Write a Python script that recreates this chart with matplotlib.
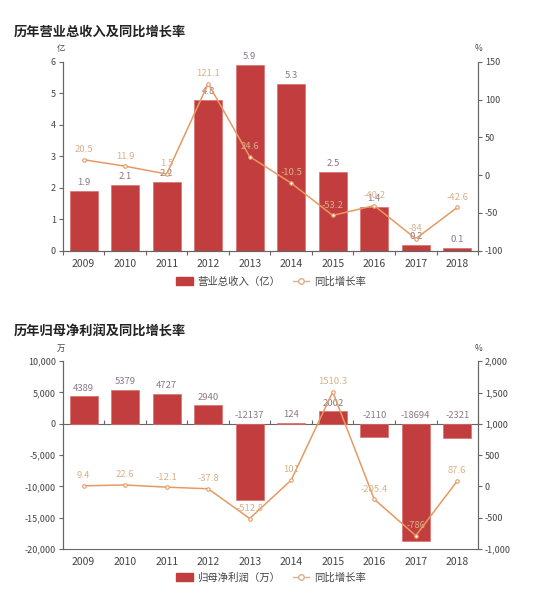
"""历年营业总收入 / 归母净利润及同比增长率（两张组合图）。"""

import matplotlib

matplotlib.use("Agg")
import matplotlib.pyplot as plt
import numpy as np
from matplotlib.lines import Line2D
from matplotlib.patches import Patch
from matplotlib.ticker import FuncFormatter, NullFormatter

years = ["2009", "2010", "2011", "2012", "2013", "2014", "2015", "2016", "2017", "2018"]

revenue = [1.9, 2.1, 2.2, 4.8, 5.9, 5.3, 2.5, 1.4, 0.2, 0.1]
revenue_growth = [20.5, 11.9, 1.5, 121.1, 24.6, -10.5, -53.2, -40.2, -84, -42.6]
revenue_growth_labels = ["20.5", "11.9", "1.5", "121.1", "24.6", "-10.5", "-53.2", "-40.2", "-84", "-42.6"]

profit = [4389, 5379, 4727, 2940, -12137, 124, 2002, -2110, -18694, -2321]
profit_growth = [9.4, 22.6, -12.1, -37.8, -512.8, 101, 1510.3, -205.4, -786, 87.6]
profit_growth_labels = ["9.4", "22.6", "-12.1", "-37.8", "-512.8", "101", "1510.3", "-205.4", "-786", "87.6"]

BAR_COLOR = "#c23d3d"
LINE_COLOR = "#e69a62"
LINE_LABEL_COLOR = "#d8b08a"
BAR_LABEL_COLOR = "#8a7888"
AXIS_COLOR = "#666666"
TEXT_COLOR = "#444444"

plt.rcParams["font.family"] = ["Noto Sans CJK SC", "DejaVu Sans"]
plt.rcParams["axes.unicode_minus"] = False


def thousands(v, _pos):
    return f"{int(round(v)):,}"


def style_axis(ax):
    for side in ("left", "right", "bottom", "top"):
        ax.spines[side].set_color(AXIS_COLOR)
        ax.spines[side].set_linewidth(0.8)
    ax.spines["top"].set_visible(False)
    ax.tick_params(axis="y", labelsize=6.5, colors=AXIS_COLOR, labelcolor=TEXT_COLOR,
                   length=3, width=0.8, pad=2)


def combo(fig, rect, bars, bar_ylim, bar_ticks, unit, line, line_labels,
          line_ylim, line_ticks, bar_label_fmt, legend_names, legend_y, comma=False):
    x = np.arange(len(years))
    ax = fig.add_axes(rect)
    ax2 = ax.twinx()
    style_axis(ax)
    style_axis(ax2)
    ax.set_zorder(ax2.get_zorder() - 1)
    ax.patch.set_visible(False)

    ax.bar(x, bars, width=0.68, color=BAR_COLOR, edgecolor="#d9706c", linewidth=0.5)
    ax.set_xlim(-0.5, len(years) - 0.5)
    ax.set_ylim(*bar_ylim)
    ax.set_yticks(bar_ticks)
    ax2.set_ylim(*line_ylim)
    ax2.set_yticks(line_ticks)
    if comma:
        ax.yaxis.set_major_formatter(FuncFormatter(thousands))
        ax2.yaxis.set_major_formatter(FuncFormatter(thousands))

    # category labels centred, tick marks between categories
    ax.set_xticks(x)
    ax.set_xticklabels(years)
    ax.tick_params(axis="x", which="major", length=0, labelsize=7.5,
                   labelcolor=TEXT_COLOR, pad=6)
    ax2.tick_params(axis="x", which="both", length=0)

    zero_frac = (0 - bar_ylim[0]) / (bar_ylim[1] - bar_ylim[0])
    ax.spines["bottom"].set_visible(zero_frac <= 0.001)
    sec = ax.secondary_xaxis(zero_frac)
    sec.spines["bottom"].set_visible(zero_frac > 0.001)
    sec.spines["bottom"].set_color(AXIS_COLOR)
    sec.spines["bottom"].set_linewidth(0.8)
    sec.spines["top"].set_visible(False)
    sec.set_xticks(np.arange(-0.5, len(years), 1))
    sec.xaxis.set_major_formatter(NullFormatter())
    sec.tick_params(axis="x", length=3, width=0.8, colors=AXIS_COLOR,
                    labelbottom=False, labeltop=False)

    span = bar_ylim[1] - bar_ylim[0]
    for xi, v in zip(x, bars):
        ax.text(xi, max(v, 0) + span * 0.02, bar_label_fmt(v), ha="center", va="bottom",
                fontsize=6.8, color=BAR_LABEL_COLOR)

    ax2.plot(x, line, color=LINE_COLOR, linewidth=1.1, marker="o", markersize=2.5,
             markerfacecolor="white", markeredgecolor=LINE_COLOR, markeredgewidth=0.8)
    lspan = line_ylim[1] - line_ylim[0]
    for xi, v, lab in zip(x, line, line_labels):
        ax2.text(xi, v + lspan * 0.03, lab, ha="center", va="bottom",
                 fontsize=6.8, color=LINE_LABEL_COLOR)

    # units above the two y axes
    ax.text(-0.005, 1.045, unit, transform=ax.transAxes, ha="center", va="bottom",
            fontsize=6, color=TEXT_COLOR)
    ax.text(1.0, 1.045, "%", transform=ax.transAxes, ha="center", va="bottom",
            fontsize=6, color=TEXT_COLOR)

    handles = [
        Patch(facecolor=BAR_COLOR, edgecolor=BAR_COLOR, label=legend_names[0]),
        Line2D([0], [0], color=LINE_LABEL_COLOR, linewidth=1, marker="o", markersize=4,
               markerfacecolor="white", markeredgecolor=LINE_LABEL_COLOR,
               label=legend_names[1]),
    ]
    fig.legend(handles=handles, loc="center", bbox_to_anchor=(0.5, legend_y), ncol=2,
               frameon=False, fontsize=7.5, handlelength=1.6, handleheight=0.8,
               handletextpad=0.4, columnspacing=1.2, labelcolor=TEXT_COLOR)
    return ax, ax2


fig = plt.figure(figsize=(5.42, 6.0), dpi=100)
fig.patch.set_facecolor("white")

fig.text(0.026, 0.947, "历年营业总收入及同比增长率", fontsize=9.5, fontweight="bold",
         color="#222222", ha="left", va="center")
combo(fig, [0.116, 0.582, 0.766, 0.315], revenue, (0, 6), [0, 1, 2, 3, 4, 5, 6], "亿",
      revenue_growth, revenue_growth_labels, (-100, 150), [-100, -50, 0, 50, 100, 150],
      lambda v: f"{v:.1f}", ["营业总收入（亿）", "同比增长率"], 0.531)

fig.text(0.026, 0.449, "历年归母净利润及同比增长率", fontsize=9.5, fontweight="bold",
         color="#222222", ha="left", va="center")
combo(fig, [0.116, 0.085, 0.766, 0.313], profit, (-20000, 10000),
      [-20000, -15000, -10000, -5000, 0, 5000, 10000], "万",
      profit_growth, profit_growth_labels, (-1000, 2000),
      [-1000, -500, 0, 500, 1000, 1500, 2000],
      lambda v: f"{int(v)}", ["归母净利润（万）", "同比增长率"], 0.037, comma=True)

fig.savefig("out.png", dpi=100)
